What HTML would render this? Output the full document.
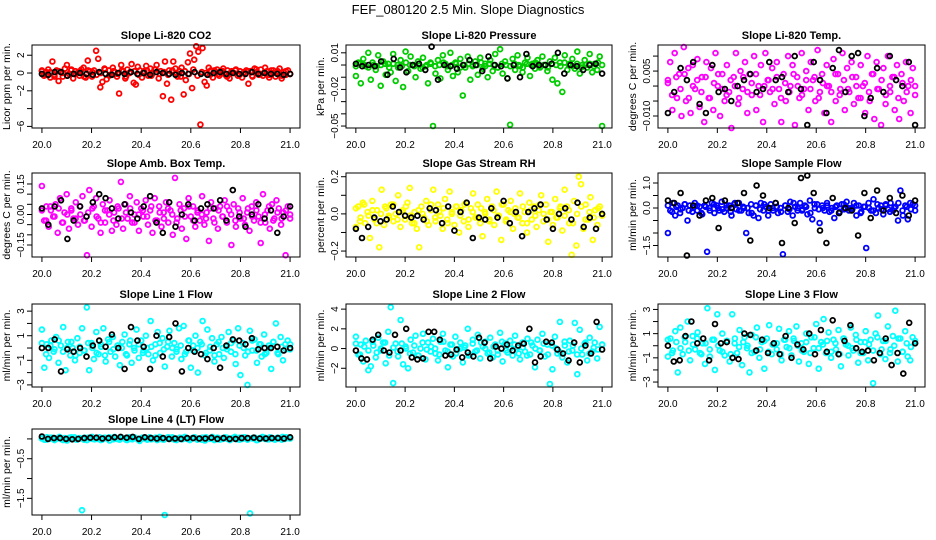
<!DOCTYPE html>
<html><head><meta charset="utf-8"><title>FEF_080120 2.5 Min. Slope Diagnostics</title>
<style>html,body{margin:0;padding:0;background:#fff}svg{display:block;font-family:"Liberation Sans",Arial,sans-serif}</style>
</head><body>
<svg id="chart" xmlns="http://www.w3.org/2000/svg" width="936" height="540" viewBox="0 0 936 540">
<rect width="936" height="540" fill="#fff"/>
<text x="468" y="14" text-anchor="middle" font-size="13">FEF_080120  2.5 Min. Slope Diagnostics</text>
</svg>
<script>
const xTicks=[20.0,20.2,20.4,20.6,20.8,21.0];
const xTickLabels=["20.0","20.2","20.4","20.6","20.8","21.0"];

const co2Y=[0.2,-0.3,0.1,0.4,-0.5,1.3,-0.2,0.3,-0.9,0.1,-0.4,0.5,0.9,-0.1,0.3,-0.6,0.2,0.0,-0.3,0.4,0.6,-0.5,1.4,0.2,-0.4,0.3,2.5,1.6,-1.6,-1.0,0.5,-0.7,0.3,-0.2,0.6,0.1,-0.4,-2.3,0.9,0.2,-0.6,0.4,0.0,1.0,-1.1,-1.3,0.7,0.3,-0.5,0.2,0.8,-0.3,0.5,-0.1,0.4,0.9,-0.6,0.2,-2.6,1.3,-1.2,0.3,-3.0,1.3,0.5,-0.4,0.2,0.6,-2.4,-0.8,1.2,2.2,-1.7,1.5,3.0,2.4,-5.8,2.8,-1.0,-1.4,0.6,0.3,-0.5,0.2,0.4,-0.3,0.1,0.5,-0.2,0.3,-0.6,0.2,0.0,0.4,-0.3,0.2,-0.5,0.1,0.3,-1.2,0.2,-0.4,0.5,0.1,-0.2,0.4,-0.3,0.6,0.2,-0.5,0.3,0.0,-0.4,0.2,0.5,-0.6,0.1,-0.2,0.3,-0.1];
const co2Band=[0.3,-0.2,0.1,-0.4,0.2,0.0,-0.3,0.4,-0.1,0.2,-0.4,0.3,0.1,-0.2,0.0,0.4,-0.3,0.2,-0.1,0.3,-0.4,0.1,0.2,-0.2,0.0,0.3,-0.3,0.4,-0.1,0.1,-0.2,0.3,0.0,-0.4,0.2,-0.1,0.4,-0.3,0.1,0.0,-0.2,0.3,-0.1,0.2,-0.4,0.1,0.3,-0.2,0.0,0.2,-0.3,0.4,-0.1,0.1,-0.2,0.3,0.0,-0.3,0.2,-0.1];
const co2Black=[-0.1,-0.2,0.1,0.1,-0.3,-0.1,0.0,-0.1,-0.2,0.1,-0.1,-0.2,0.0,-0.1,0.1,-0.1,0.0,-0.2,0.1,0.0,-0.1,-0.2,0.0,-0.1,0.1,-0.1,-0.2,0.0,0.1,-0.1,0.0,-0.1,-0.1,0.1,-0.1,0.0,-0.1,-0.1,-0.2,-0.1];

const presY=[-0.009,0.002,-0.015,0.005,-0.001,0.010,-0.012,0.000,-0.004,0.008,-0.017,0.003,-0.008,0.001,-0.006,0.009,-0.013,-0.002,0.004,-0.018,0.011,-0.005,0.007,0.000,-0.010,0.003,-0.003,0.006,-0.001,-0.015,0.002,-0.050,-0.007,0.004,-0.011,0.008,0.001,-0.004,0.010,-0.009,0.002,-0.006,0.005,-0.025,-0.002,0.007,-0.012,0.000,0.003,-0.008,0.006,-0.003,0.001,-0.010,0.004,-0.005,0.009,-0.002,0.013,-0.007,0.003,-0.011,-0.049,0.005,-0.004,0.008,-0.001,-0.006,0.002,0.006,-0.009,0.001,-0.003,0.004,-0.002,0.007,0.000,-0.005,0.003,-0.012,0.006,-0.015,0.002,-0.022,0.008,-0.004,0.001,0.005,-0.003,0.011,-0.007,0.000,0.004,-0.002,0.009,-0.006,0.001,-0.004,0.007,-0.050];
const presBand=[-0.001,0.001,0.000,-0.002,0.002,-0.001,0.000,0.001,-0.002,0.001,0.000,-0.001,0.002,0.000,-0.001,0.001,-0.002,0.000,0.001,-0.001,0.000,0.002,-0.001,0.000,0.001,-0.002,0.000,0.001,-0.001,0.000,0.002,-0.001,0.001,0.000,-0.002,0.001,0.000,-0.001,0.001,0.000,-0.002,0.001,0.000,0.002,-0.001,0.000,-0.002,0.001,0.000,-0.001,0.002,0.000,-0.001,0.001,-0.002,0.000,0.001,-0.001,0.002,0.000];
const presBlack=[0.001,-0.001,0.000,-0.001,0.003,-0.008,0.005,-0.002,-0.006,0.000,0.001,-0.004,0.015,-0.012,0.000,-0.001,-0.003,0.000,0.004,0.000,-0.005,0.007,0.000,-0.001,-0.011,0.000,-0.010,0.009,-0.001,0.000,0.000,0.001,0.010,-0.007,0.000,-0.001,-0.004,0.000,0.001,-0.007];

const tempY=[0.002,0.008,-0.008,0.011,-0.004,0.004,-0.010,0.013,-0.005,0.006,-0.009,0.007,-0.001,0.009,-0.007,0.003,-0.012,0.008,-0.004,0.006,-0.008,0.011,0.000,-0.010,0.004,-0.005,0.007,-0.002,-0.014,0.003,0.011,-0.006,0.005,-0.001,0.008,-0.009,0.004,-0.003,0.010,-0.008,0.000,0.007,-0.012,0.011,0.002,-0.002,0.006,-0.006,0.008,-0.001,-0.012,0.004,-0.005,0.010,0.000,0.007,-0.013,0.003,-0.004,0.011,-0.001,0.005,-0.008,0.008,0.002,-0.005,0.012,-0.002,0.004,-0.009,0.007,0.000,-0.012,0.009,-0.005,0.004,-0.001,0.011,-0.008,0.006,-0.002,0.008,-0.006,0.003,-0.004,0.007,0.000,-0.009,0.010,-0.005,0.004,-0.011,0.008,-0.001,-0.013,0.006,-0.006,0.010,-0.002,0.003,-0.008,0.007,-0.011,0.004,-0.005,0.008,0.000,-0.009,0.006,-0.003];
const tempBand=[0.001,-0.003,0.003,-0.001,0.004,-0.004,0.000,0.002,-0.002,0.003,-0.004,0.001,0.004,-0.001,-0.003,0.002,0.000,-0.004,0.003,-0.002,0.001,0.004,-0.003,0.000,0.002,-0.001,0.003,-0.004,0.001,-0.002,0.004,0.000,-0.003,0.002,-0.001,0.003,-0.004,0.001,0.000,-0.002,0.004,-0.003,0.002,-0.001,0.003,0.000,-0.004,0.001,-0.002,0.004,-0.001,0.002,-0.003,0.000,0.003,-0.004,0.001,-0.002,0.002,0.000];
const tempBlack=[-0.009,-0.002,0.006,0.002,0.008,-0.006,-0.009,0.007,-0.002,-0.001,-0.005,0.000,0.002,0.004,-0.002,-0.001,0.008,0.002,0.003,-0.002,0.010,-0.001,-0.013,0.008,0.002,-0.009,0.006,0.012,-0.002,0.010,0.011,-0.010,-0.004,0.006,-0.002,0.010,0.002,0.000,0.008,-0.013];

const ambY=[0.14,-0.03,0.04,-0.06,0.02,-0.01,0.05,-0.09,0.08,-0.04,0.01,0.10,-0.07,0.03,-0.02,0.06,-0.05,0.00,0.09,-0.03,-0.20,0.12,-0.06,0.04,0.08,-0.02,-0.09,0.05,-0.04,0.02,0.07,-0.08,0.01,-0.05,0.03,0.16,-0.07,0.05,-0.02,0.09,-0.04,0.00,0.06,-0.08,0.03,-0.01,0.07,-0.05,0.02,-0.09,0.08,-0.03,0.04,-0.06,0.01,0.06,-0.04,0.02,-0.10,0.18,-0.02,0.05,-0.07,0.03,-0.12,0.08,-0.01,0.04,-0.06,0.02,-0.03,0.09,-0.05,0.01,-0.13,0.06,-0.02,0.03,-0.07,0.04,-0.01,0.07,-0.04,0.02,-0.15,0.05,-0.06,0.03,-0.02,0.08,-0.05,0.01,-0.08,0.04,-0.03,0.06,-0.01,-0.14,0.10,-0.04,0.02,-0.07,0.05,-0.02,0.07,0.03,-0.05,0.01,-0.20,0.04,-0.02];
const ambBand=[0.02,-0.03,0.04,-0.01,0.03,-0.04,0.00,0.02,-0.02,0.04,-0.03,0.01,0.03,-0.01,-0.04,0.02,0.00,-0.03,0.04,-0.02,0.01,0.03,-0.04,0.00,0.02,-0.01,0.04,-0.03,0.01,-0.02,0.03,0.00,-0.04,0.02,-0.01,0.04,-0.03,0.01,0.00,-0.02,0.03,-0.04,0.02,-0.01,0.04,0.00,-0.03,0.01,-0.02,0.03,-0.01,0.02,-0.04,0.00,0.04,-0.03,0.01,-0.02,0.02,0.00];
const ambBlack=[0.03,-0.05,0.04,0.07,-0.12,-0.03,0.04,-0.01,0.06,0.10,0.08,0.03,-0.02,0.05,0.01,-0.02,0.04,0.09,-0.04,-0.09,0.06,-0.06,0.00,0.05,-0.03,0.03,0.05,0.03,0.07,-0.03,0.12,-0.01,-0.06,0.00,0.05,-0.02,0.02,-0.09,-0.01,0.04];

const rhY=[-0.07,0.04,-0.02,0.06,-0.05,0.01,-0.13,0.07,-0.03,0.02,-0.18,0.13,-0.06,0.03,-0.01,0.05,-0.04,0.00,0.10,-0.07,0.02,-0.03,0.06,0.14,-0.05,0.01,-0.08,-0.18,0.04,-0.02,0.07,-0.06,0.02,0.13,-0.04,0.05,-0.01,-0.08,0.08,-0.03,0.12,0.01,-0.06,0.04,-0.10,0.02,-0.04,0.06,-0.07,0.03,0.11,-0.02,0.05,-0.05,-0.12,0.01,0.08,-0.03,0.04,-0.06,0.12,-0.01,-0.14,0.05,-0.04,0.02,0.07,-0.08,0.03,-0.02,0.11,-0.05,0.01,-0.10,0.06,-0.03,0.04,-0.07,0.02,0.10,-0.04,0.05,-0.15,0.01,-0.06,0.08,-0.02,0.03,-0.09,0.13,0.04,-0.05,-0.22,0.07,-0.17,0.20,0.16,-0.08,0.05,-0.03,0.09,-0.14,0.02,-0.06,0.04,-0.01];
const rhBand=[0.03,-0.04,0.05,-0.01,0.02,-0.05,0.00,0.04,-0.02,0.05,-0.03,0.01,0.04,-0.01,-0.05,0.02,0.00,-0.04,0.05,-0.02,0.01,0.03,-0.05,0.00,0.04,-0.01,0.05,-0.03,0.01,-0.02,0.03,0.00,-0.04,0.02,-0.01,0.05,-0.03,0.01,0.00,-0.02,0.04,-0.05,0.02,-0.01,0.05,0.00,-0.03,0.01,-0.02,0.04,-0.01,0.02,-0.05,0.00,0.04,-0.03,0.01,-0.02,0.03,0.00];
const rhBlack=[-0.08,-0.13,-0.07,-0.02,-0.04,-0.03,0.04,0.01,-0.01,-0.02,-0.01,-0.03,0.03,0.02,-0.05,0.04,-0.09,0.01,0.06,-0.13,-0.02,-0.03,0.03,-0.02,0.07,-0.05,0.01,-0.12,0.01,0.03,0.05,-0.03,-0.08,0.00,0.03,-0.03,0.06,-0.07,-0.02,-0.08,0.00];

const flowY=[-1.0,-0.1,0.2,-0.3,0.1,-0.2,0.0,0.15,-0.5,0.1,-0.15,0.2,-0.1,0.05,-0.25,0.1,-1.75,0.0,0.2,-0.2,0.1,-0.1,0.25,-0.15,0.0,0.1,-0.3,0.15,-0.05,0.2,-0.1,0.0,-1.0,-0.2,0.15,-0.3,0.1,-0.4,0.2,-0.1,0.05,-0.3,0.15,-0.1,0.2,-0.2,0.0,-1.85,0.1,-0.15,0.25,-0.3,0.05,-0.1,0.2,-0.05,0.1,-0.25,0.3,-0.45,0.0,0.15,-0.6,0.1,-0.1,0.2,-0.15,0.0,-0.4,0.1,-0.2,0.15,-0.05,0.25,-0.1,0.0,0.2,-0.3,0.1,-0.15,0.05,-1.6,0.2,-0.1,0.35,-0.2,0.0,0.1,-0.25,0.15,-0.05,0.2,-0.1,0.05,-0.5,0.7,-0.3,0.1,-0.45,0.2,0.15,-0.1];
const flowBand=[0.1,-0.15,0.05,-0.05,0.15,-0.1,0.0,0.1,-0.2,0.05,-0.1,0.15,0.0,-0.05,0.1,-0.15,0.2,-0.1,0.05,0.0,-0.2,0.1,-0.05,0.15,-0.1,0.0,0.05,-0.15,0.1,-0.05,0.2,0.0,-0.1,0.05,-0.2,0.15,-0.05,0.0,0.1,-0.1,0.05,-0.15,0.15,0.0,-0.05,0.1,-0.2,0.05,0.0,-0.1,0.15,-0.05,0.1,-0.15,0.0,0.2,-0.1,0.05,-0.05,0.1];
const flowBlack=[0.3,0.2,0.6,-1.9,0.1,-0.3,0.3,0.4,-0.8,0.3,0.0,0.2,0.6,-1.3,0.9,0.5,0.0,0.2,-1.4,0.0,-0.6,1.2,1.3,0.6,-0.9,-1.4,0.4,-0.2,0.0,-0.1,-1.1,0.6,-0.4,0.7,-0.1,0.4,-0.2,0.5,-0.3,0.3];

const l1Y=[1.5,-1.6,0.3,-0.8,0.6,-0.3,0.9,-1.2,0.2,1.7,-1.8,0.5,-0.6,0.0,-1.0,0.8,-0.4,1.6,-0.2,3.3,-1.8,0.4,-0.9,1.3,-0.5,0.1,1.6,-1.1,0.7,-0.3,0.9,-0.7,0.2,-1.4,0.5,1.1,-0.6,0.3,-1.2,0.0,1.5,-0.8,0.6,-0.2,1.0,-0.5,2.2,-1.0,0.3,1.3,-0.4,0.8,-1.5,0.1,1.4,-0.7,0.4,-0.1,1.6,-0.9,1.8,-0.3,0.6,-1.6,0.2,1.0,-2.0,0.5,2.2,-0.6,1.5,-0.2,0.8,-1.1,0.3,-0.5,0.9,-0.8,0.1,1.3,-0.3,0.6,-1.3,1.6,-2.2,0.4,-0.6,-3.0,1.4,-0.2,0.7,-1.2,0.3,-0.7,1.1,-0.4,0.2,-1.7,0.5,2.0,-0.5,0.9,-1.0,0.3,0.6,-0.1];
const l1Band=[0.4,-0.5,0.2,-0.1,0.6,-0.3,0.0,0.5,-0.6,0.1,-0.2,0.4,0.0,-0.4,0.3,-0.6,0.5,-0.1,0.2,0.0,-0.5,0.6,-0.2,0.3,-0.4,0.0,0.1,-0.6,0.4,-0.1,0.5,0.0,-0.3,0.2,-0.5,0.6,-0.2,0.0,0.3,-0.4,0.1,-0.6,0.5,0.0,-0.1,0.4,-0.5,0.2,0.0,-0.3,0.6,-0.2,0.3,-0.5,0.0,0.5,-0.4,0.1,-0.1,0.3];
const l1Black=[0,0,0.7,-1.9,-0.1,-0.3,0,-0.7,0.2,0.6,0.1,1.1,0.0,-1.7,1.7,0.6,0.1,-1.7,1.0,-0.7,0.9,2.0,-1.9,0.0,-0.3,-0.5,-0.9,0.0,-1.6,0.2,0.7,0.6,0.3,0.8,-0.1,0,0,0.1,-0.2,0];

const l2Y=[1.2,-0.6,0.4,-1.3,0.8,-2.2,-1.8,0.3,-0.9,1.1,-0.2,0.6,-1.5,1.7,4.2,-3.5,0.5,-0.8,2.9,-1.6,0.2,-2.0,0.9,-0.4,1.3,-0.7,0.0,1.5,-1.1,0.6,-0.3,1.0,-0.5,-1.2,0.7,1.5,-0.2,-1.9,0.4,-0.8,1.2,-0.1,0.6,-1.4,0.3,2.0,-0.6,0.9,-0.3,1.4,-1.0,0.2,0.7,-0.5,1.1,-0.9,0.4,-0.2,1.6,-1.3,0.5,-0.4,0.8,-0.7,1.3,0.1,-1.1,0.6,-0.3,1.0,-0.6,0.3,-1.9,0.9,-0.2,1.5,-0.8,0.4,-3.6,-2.1,1.2,-0.5,2.7,-0.9,0.3,-1.4,0.8,-0.2,2.6,-2.6,1.9,-0.6,0.5,-1.2,1.1,-0.3,0.6,-1.0,2.2,0.4];
const l2Band=[0.5,-0.6,0.2,-0.2,0.7,-0.4,0.0,0.6,-0.7,0.1,-0.3,0.5,0.0,-0.5,0.3,-0.7,0.6,-0.1,0.2,0.0,-0.6,0.7,-0.3,0.4,-0.5,0.0,0.1,-0.7,0.5,-0.2,0.6,0.0,-0.4,0.2,-0.6,0.7,-0.2,0.0,0.4,-0.5,0.1,-0.7,0.6,0.0,-0.2,0.5,-0.6,0.3,0.0,-0.4,0.7,-0.3,0.3,-0.6,0.0,0.6,-0.5,0.1,-0.1,0.4];
const l2Black=[-0.2,-1.0,-1.1,0.9,1.4,-0.2,-0.4,1.4,-0.2,2.0,-0.9,-1.1,-1.0,1.7,1.7,0.9,-0.7,-0.6,-0.1,-0.9,-0.4,-0.8,1.1,0.6,-1.0,0.2,0.0,0.4,-0.2,0.3,0.5,2.0,-1.4,-0.8,0.7,0.6,-0.1,-0.5,-1.2,0.6,-1.4,0.3,-0.5,2.7,-0.1];

const l3Y=[-0.9,0.6,-0.4,1.2,-2.2,1.5,-0.7,0.3,2.0,-1.2,0.8,-0.3,1.1,-0.6,0.2,-1.5,3.1,-0.9,0.5,-2.0,2.6,-0.4,1.0,-0.8,0.4,-1.3,2.6,0.2,-0.6,1.3,-1.6,0.7,-0.2,-2.2,0.9,-0.5,1.5,-1.0,0.3,-1.9,0.6,1.7,-0.7,0.2,-0.3,1.4,-1.2,0.5,-0.1,1.2,-0.8,0.4,1.6,-1.3,0.2,-0.5,1.0,-1.5,0.7,-0.2,1.8,-1.9,0.3,2.2,-0.6,1.1,-1.0,0.5,-0.3,1.3,-1.7,0.6,0.1,-0.8,1.5,-0.4,0.9,-1.4,0.3,-0.6,1.2,-1.2,0.5,-3.1,1.0,2.5,-0.7,0.4,-1.1,1.6,-0.3,0.8,2.9,-1.3,0.6,-0.5,1.2,-0.9,-1.2,0.7,0.2];
const l3Band=[0.5,-0.6,0.3,-0.2,0.7,-0.4,0.1,0.6,-0.7,0.2,-0.3,0.5,0.0,-0.5,0.4,-0.7,0.6,-0.1,0.3,0.0,-0.6,0.7,-0.3,0.4,-0.5,0.1,0.2,-0.7,0.5,-0.2,0.6,0.0,-0.4,0.3,-0.6,0.7,-0.2,0.1,0.4,-0.5,0.2,-0.7,0.6,0.0,-0.2,0.5,-0.6,0.3,0.1,-0.4,0.7,-0.3,0.4,-0.6,0.0,0.6,-0.5,0.2,-0.1,0.4];
const l3Black=[0.0,-1.3,-1.2,0.8,2.0,0.2,0.6,-1.2,1.8,0.2,0.3,-1.0,-1.1,1.0,0.9,-0.4,0.5,-0.6,0.2,-0.7,0.8,-1.0,0.1,-0.3,1.0,-0.7,1.3,-0.5,2.1,-0.7,0.4,1.7,-0.2,-0.5,-0.4,-1.2,-0.6,0.6,-1.6,-0.6,-2.3,1.9,0.2];

const l4Y=[0.02,-0.02,0.04,0.00,0.03,-0.03,0.01,0.05,-0.01,0.02,-0.04,0.03,0.00,0.04,-0.02,0.01,-1.80,0.03,-0.03,0.02,0.05,-0.01,0.00,0.04,-0.02,0.03,0.01,-0.04,0.02,0.05,0.00,-0.02,0.03,0.01,-0.03,0.04,-0.01,0.02,0.00,-0.05,0.03,0.01,-0.02,0.04,0.00,0.02,-0.03,0.05,-0.01,-1.92,0.03,0.00,0.04,-0.02,0.01,0.03,-0.01,0.05,0.00,-0.03,0.02,0.04,-0.02,0.01,0.03,-0.04,0.02,0.00,0.05,-0.01,0.03,-0.02,0.01,0.04,0.00,-0.03,0.02,0.05,-0.01,0.03,0.00,0.04,-0.02,-1.88,0.01,0.03,-0.03,0.02,0.05,0.00,-0.01,0.04,0.02,-0.02,0.03,0.01,0.05,0.00,0.03,0.02];
const l4Band=[0.01,-0.02,0.03,0.00,0.02,-0.03,0.01,0.04,-0.01,0.02,-0.02,0.03,0.00,0.01,-0.03,0.02,0.04,-0.01,0.00,0.03,-0.02,0.01,0.04,-0.03,0.02,0.00,-0.01,0.03,0.01,-0.02,0.04,0.00,-0.03,0.02,0.01,-0.01,0.03,0.00,-0.02,0.04,0.01,-0.03,0.02,0.00,0.03,-0.01,0.01,-0.02,0.04,0.00,0.02,-0.03,0.01,0.03,-0.01,0.00,0.02,-0.02,0.04,0.01];
const l4Black=[0.06,0.00,0.02,0.02,0.00,-0.01,0.00,0.02,0.03,0.03,0.01,0.02,0.04,0.05,0.03,0.05,0.00,0.04,0.02,0.01,0.02,0.00,0.01,0.00,0.02,0.02,0.01,0.01,0.03,0.00,0.02,0.00,0.00,0.02,0.02,0.03,0.01,0.01,0.02,0.02,0.01,0.04];

const svg=document.getElementById('chart');
const NS='http://www.w3.org/2000/svg';
function mk(tag,attrs,parent){const e=document.createElementNS(NS,tag);for(const k in attrs)e.setAttribute(k,attrs[k]);(parent||svg).appendChild(e);return e;}

function drawPanel(p){
  const g=mk('g',{});
  
  
  const sx=v=>p.x+(v-19.96)/1.08*p.w;
  const sy=v=>p.y+(p.ymax-v)/(p.ymax-p.ymin)*p.h;
  const t=mk('text',{x:p.x+p.w/2,y:p.y-6,'text-anchor':'middle','font-size':'11','font-weight':'bold'},g);
  t.textContent=p.title;
  
  
  const yl=mk('text',{transform:`translate(${p.x-22},${p.y+p.h/2}) rotate(-90)`,'text-anchor':'middle','font-size':'10.5'},g);
  yl.textContent=p.ylab;
  
  
  const pts=mk('g',{fill:'none','stroke-width':'1.8'},g);
  
  
  const series=[[p.c,p.col],[p.c2||[],p.col],[p.b,'#000']];
  series.forEach(([arr,col])=>{
    arr.forEach((v,i)=>{
      const xv=20+i/(arr.length-1);
      const c=mk('circle',{cx:sx(xv).toFixed(1),cy:sy(v).toFixed(1),r:'2.4',stroke:col},pts);
      
      
    });
  });
  const box=mk('rect',{x:p.x,y:p.y,width:p.w,height:p.h,fill:'none',stroke:'#000','stroke-width':'1'},g);
  
  
  const xa=mk('g',{},g);
  
  
  mk('line',{x1:sx(xTicks[0]),x2:sx(xTicks[xTicks.length-1]),y1:p.y+p.h,y2:p.y+p.h,stroke:'#000'},xa);
  xTicks.forEach((v,i)=>{
    mk('line',{x1:sx(v),x2:sx(v),y1:p.y+p.h,y2:p.y+p.h+5,stroke:'#000'},xa);
    const tl=mk('text',{x:sx(v),y:p.y+p.h+20,'text-anchor':'middle','font-size':'10'},xa);
    tl.textContent=xTickLabels[i];
    
    
  });
  const ya=mk('g',{},g);
  
  
  p.yt.forEach((v,i)=>{
    mk('line',{x1:p.x-5,x2:p.x,y1:sy(v),y2:sy(v),stroke:'#000'},ya);
    if(p.yl[i]){
      const tl=mk('text',{transform:`translate(${p.x-8},${sy(v)}) rotate(-90)`,'text-anchor':'middle','font-size':'10'},ya);
      tl.textContent=p.yl[i];
      
      
    }
  });
}

const W=268,H=83;
const panels=[
 {name:'co2',title:'Slope Li-820 CO2',ylab:'Licor ppm per min.',x:32,y:45,w:W,h:H,ymin:-6.18,ymax:3.15,yt:[2,0,-2,-4,-6],yl:['2','0','−2','','−6'],c:co2Y,c2:co2Band,b:co2Black,col:'#ff0000'},
 {name:'pressure',title:'Slope Li-820 Pressure',ylab:'kPa per min.',x:346,y:45,w:266,h:H,ymin:-0.0516,ymax:0.0164,yt:[0.01,0,-0.01,-0.02,-0.03,-0.04,-0.05],yl:['0.01','','','−0.02','','','−0.05'],c:presY,c2:presBand,b:presBlack,col:'#00cc00'},
 {name:'li820-temp',title:'Slope Li-820 Temp.',ylab:'degrees C per min.',x:658,y:45,w:267,h:H,ymin:-0.014,ymax:0.0137,yt:[0.010,0.005,0,-0.005,-0.010],yl:['','0.005','','','−0.010'],c:tempY,c2:tempBand,b:tempBlack,col:'#ff00ff'},
 {name:'amb-box-temp',title:'Slope Amb. Box Temp.',ylab:'degrees C per min.',x:32,y:173,w:W,h:84,ymin:-0.209,ymax:0.204,yt:[0.15,0.10,0.05,0,-0.05,-0.10,-0.15],yl:['0.15','','','0.00','','','−0.15'],c:ambY,c2:ambBand,b:ambBlack,col:'#ff00ff'},
 {name:'gas-stream-rh',title:'Slope Gas Stream RH',ylab:'percent per min.',x:346,y:173,w:266,h:84,ymin:-0.232,ymax:0.22,yt:[0.2,0.1,0,-0.1,-0.2],yl:['0.2','','0.0','','−0.2'],c:rhY,c2:rhBand,b:rhBlack,col:'#ffff00'},
 {name:'sample-flow',title:'Slope Sample Flow',ylab:'ml/min per min.',x:658,y:173,w:267,h:84,ymin:-1.96,ymax:1.4,yt:[1.0,0.5,0,-0.5,-1.0,-1.5],yl:['1.0','','0.0','','','−1.5'],c:flowY,c2:flowBand,b:flowBlack,col:'#0000ff'},
 {name:'line1-flow',title:'Slope Line 1 Flow',ylab:'ml/min per min.',x:32,y:304,w:W,h:H,ymin:-3.17,ymax:3.58,yt:[3,2,1,0,-1,-2,-3],yl:['3','','1','','−1','','−3'],c:l1Y,c2:l1Band,b:l1Black,col:'#00ffff'},
 {name:'line2-flow',title:'Slope Line 2 Flow',ylab:'ml/min per min.',x:346,y:304,w:266,h:H,ymin:-3.9,ymax:4.52,yt:[4,2,0,-2],yl:['4','2','0','−2'],c:l2Y,c2:l2Band,b:l2Black,col:'#00ffff'},
 {name:'line3-flow',title:'Slope Line 3 Flow',ylab:'ml/min per min.',x:658,y:304,w:267,h:H,ymin:-3.41,ymax:3.45,yt:[3,2,1,0,-1,-2,-3],yl:['3','','1','','−1','','−3'],c:l3Y,c2:l3Band,b:l3Black,col:'#00ffff'},
 {name:'line4-flow',title:'Slope Line 4 (LT) Flow',ylab:'ml/min per min.',x:32,y:429,w:W,h:86,ymin:-1.92,ymax:0.25,yt:[0,-0.5,-1.0,-1.5],yl:['','−0.5','','−1.5'],c:l4Y,c2:l4Band,b:l4Black,col:'#00ffff'}
];
panels.forEach(drawPanel);
</script>
</body></html>
